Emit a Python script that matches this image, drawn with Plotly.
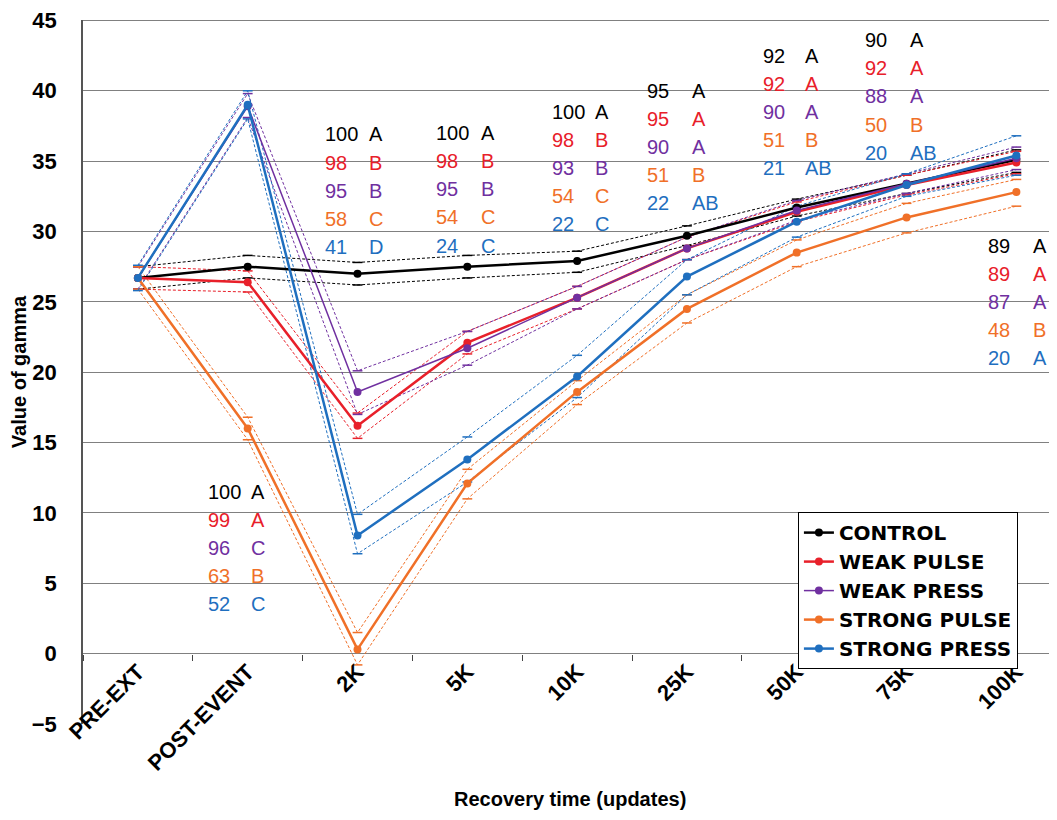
import plotly.graph_objects as go

categories = ["PRE-EXT", "POST-EVENT", "2K", "5K", "10K", "25K", "50K", "75K", "100K"]

series_names = ["CONTROL", "WEAK PULSE", "WEAK PRESS", "STRONG PULSE", "STRONG PRESS"]

control = [26.7, 27.5, 27.0, 27.5, 27.9, 29.7, 31.7, 33.4, 35.1]
control_hi = [27.5, 28.3, 27.8, 28.3, 28.6, 30.4, 32.3, 34.0, 35.8]
control_lo = [25.9, 26.7, 26.2, 26.7, 27.1, 29.0, 31.1, 32.7, 34.2]

weak_pulse = [26.7, 26.4, 16.2, 22.1, 25.3, 28.8, 31.4, 33.3, 34.9]
weak_pulse_hi = [27.5, 27.2, 17.1, 22.9, 26.1, 29.6, 32.1, 34.0, 35.7]
weak_pulse_lo = [25.9, 25.7, 15.3, 21.3, 24.5, 28.0, 30.7, 32.6, 34.1]

weak_press = [26.7, 38.9, 18.6, 21.7, 25.3, 28.8, 31.5, 33.4, 35.2]
weak_press_hi = [27.5, 39.8, 20.1, 22.9, 26.1, 29.6, 32.2, 34.1, 36.0]
weak_press_lo = [25.9, 38.1, 17.0, 20.5, 24.5, 28.0, 30.8, 32.7, 34.4]

strong_pulse = [26.7, 16.0, 0.3, 12.1, 18.6, 24.5, 28.5, 31.0, 32.8]
strong_pulse_hi = [27.5, 16.8, 1.5, 13.1, 19.4, 25.5, 29.4, 32.0, 33.7]
strong_pulse_lo = [25.9, 15.2, -0.8, 11.0, 17.7, 23.5, 27.5, 29.9, 31.8]

strong_press = [26.7, 39.0, 8.4, 13.8, 19.7, 26.8, 30.7, 33.3, 35.4]
strong_press_hi = [27.6, 40.0, 9.9, 15.4, 21.2, 28.0, 31.8, 34.1, 36.8]
strong_press_lo = [25.8, 38.0, 7.1, 12.2, 18.2, 25.5, 29.6, 32.5, 34.0]

# significance labels: one group per time point (percent, letter) in series order
label_groups = [
    ("POST-EVENT", ["100", "99", "96", "63", "52"], ["A", "A", "C", "B", "C"]),
    ("2K", ["100", "98", "95", "58", "41"], ["A", "B", "B", "C", "D"]),
    ("5K", ["100", "98", "95", "54", "24"], ["A", "B", "B", "C", "C"]),
    ("10K", ["100", "98", "93", "54", "22"], ["A", "B", "B", "C", "C"]),
    ("25K", ["95", "95", "90", "51", "22"], ["A", "A", "A", "B", "AB"]),
    ("50K", ["92", "92", "90", "51", "21"], ["A", "A", "A", "B", "AB"]),
    ("75K", ["90", "92", "88", "50", "20"], ["A", "A", "A", "B", "AB"]),
    ("100K", ["89", "89", "87", "48", "20"], ["A", "A", "A", "B", "A"]),
]

colors = ["#000000", "#E8202A", "#7030A0", "#F07028", "#1F6FBF"]
widths = [2.5, 2.5, 1.5, 2.5, 2.5]

means = [control, weak_pulse, weak_press, strong_pulse, strong_press]
his = [control_hi, weak_pulse_hi, weak_press_hi, strong_pulse_hi, strong_press_hi]
los = [control_lo, weak_pulse_lo, weak_press_lo, strong_pulse_lo, strong_press_lo]

Y_MIN, Y_MAX = -5, 45

FONT = "Liberation Sans, Arial, sans-serif"
GRID = "#808080"

fig = go.Figure()

# confidence bounds (dashed, with small caps)
for name, c, hi, lo in zip(series_names, colors, his, los):
    for bound in (hi, lo):
        fig.add_trace(go.Scatter(
            x=categories, y=bound, mode="lines+markers",
            line=dict(color=c, width=1, dash="3px,2px"),
            marker=dict(symbol="line-ew", size=7, line=dict(color=c, width=1.5)),
            showlegend=False, hoverinfo="skip",
        ))

# means
for name, c, w, m in zip(series_names, colors, widths, means):
    fig.add_trace(go.Scatter(
        x=categories, y=m, mode="lines+markers", name=name,
        line=dict(color=c, width=w),
        marker=dict(color=c, size=8),
    ))

# layout offsets for label groups (category units / data units)
group_offsets = {
    "POST-EVENT": (-0.376, 0.016, 11.5),
    "2K": (-0.31, 0.09, 36.9),
    "5K": (-0.30, 0.11, 37.0),
    "10K": (-0.25, 0.14, 38.5),
    "25K": (-0.38, 0.03, 40.0),
    "50K": (-0.33, 0.06, 42.5),
    "75K": (-0.40, 0.01, 43.6),
    "100K": (-0.28, 0.13, 29.0),
}
row_step = 2.0

annotations = []
for cat, nums, letters in label_groups:
    ci = categories.index(cat)
    dx_num, dx_let, ytop = group_offsets[cat]
    for r, (n, l) in enumerate(zip(nums, letters)):
        yy = ytop - r * row_step
        annotations.append(dict(x=ci + dx_num, y=yy, xref="x", yref="y", text=n,
                                showarrow=False, xanchor="left", yanchor="middle",
                                font=dict(family=FONT, size=20, color=colors[r])))
        annotations.append(dict(x=ci + dx_let, y=yy, xref="x", yref="y", text=l,
                                showarrow=False, xanchor="left", yanchor="middle",
                                font=dict(family=FONT, size=20, color=colors[r])))

annotations.append(dict(x=0.5, y=-0.107, xref="paper", yref="paper",
                        text="<b>Recovery time (updates)</b>", showarrow=False,
                        xanchor="center", yanchor="middle",
                        font=dict(family=FONT, size=20, color="#000")))

# top border gridline of the plot area
shapes = [dict(type="line", xref="paper", yref="y", x0=0, x1=1, y0=Y_MAX, y1=Y_MAX,
               line=dict(color=GRID, width=1.3), layer="below")]

# page body has an 8px margin: size the figure so the plot lands where intended
fig.update_layout(
    width=1049, height=812,
    margin=dict(l=75, r=0, t=12, b=96, autoexpand=False),
    plot_bgcolor="white", paper_bgcolor="white",
    font=dict(family=FONT, color="#000"),
    annotations=annotations,
    shapes=shapes,
    legend=dict(x=0.734, y=0.301, xanchor="left", yanchor="top",
                bordercolor="#000", borderwidth=1, bgcolor="white",
                font=dict(family="DejaVu Sans, sans-serif", size=20, color="#000", weight="bold"),
                tracegroupgap=0, itemwidth=30),
    xaxis=dict(type="category", categoryorder="array", categoryarray=categories,
               range=[-0.5, 8.37], anchor="free", position=0.1, automargin=False,
               showgrid=False, showline=False, zeroline=False,
               ticks="outside", tickson="boundaries", ticklen=6, tickcolor="#444",
               tickangle=-45,
               tickfont=dict(family=FONT, size=22, weight="bold", color="#000")),
    yaxis=dict(range=[Y_MIN, Y_MAX + 0.03], tick0=0, dtick=5, showgrid=True, gridcolor=GRID, gridwidth=1.3,
               zeroline=False, showline=True, linecolor="#555", linewidth=1.5,
               ticks="", ticklabelstandoff=20, automargin=False, ticklabeloverflow="allow",
               tickfont=dict(family=FONT, size=22, weight="bold", color="#000"),
               title=dict(text="Value of gamma", standoff=0,
                          font=dict(family=FONT, size=20, weight="bold", color="#000"))),
)

fig.write_html("out.html")
